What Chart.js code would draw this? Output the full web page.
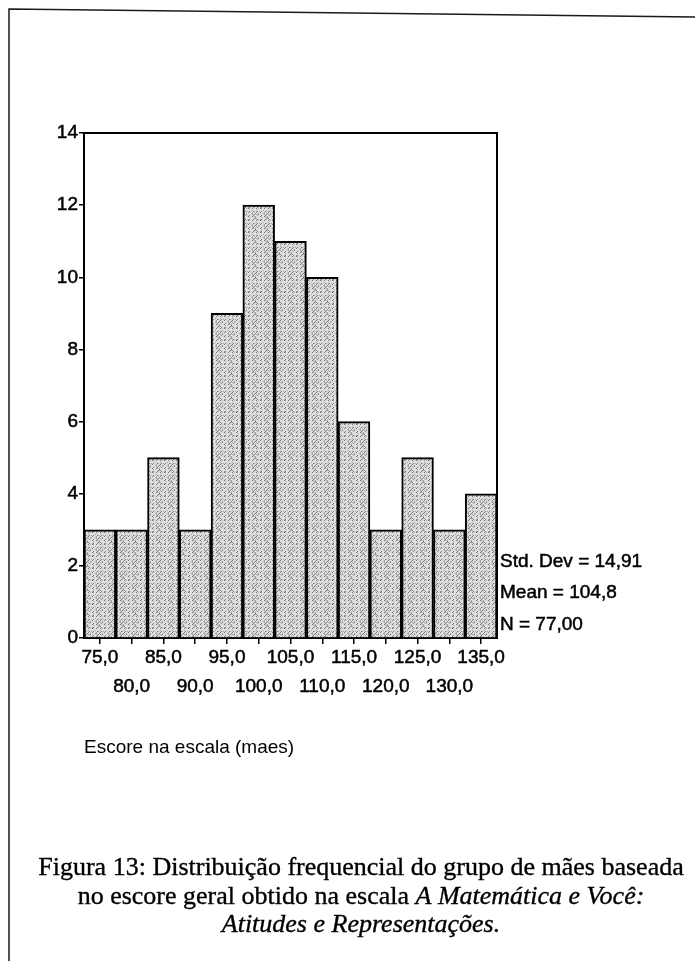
<!DOCTYPE html>
<html>
<head>
<meta charset="utf-8">
<script src="https://cdn.jsdelivr.net/npm/chart.js@4/dist/chart.umd.min.js"></script>
<style>
  html, body { margin: 0; padding: 0; background: #fff; }
  canvas { display: block; }
</style>
</head>
<body>
<canvas id="hist" width="695" height="961" style="width:695px;height:961px"></canvas>
<script>
// Histogram bins (midpoints) and frequencies
const binLabels = ['75,0', '80,0', '85,0', '90,0', '95,0', '100,0', '105,0',
                   '110,0', '115,0', '120,0', '125,0', '130,0', '135,0'];
const counts = [3, 3, 5, 3, 9, 12, 11, 10, 6, 3, 5, 3, 4];

// Frequency axis
const yMin = 0;
const yMax = 14;
const yStep = 2;

// Summary statistics printed beside the plot
const statLines = ['Std. Dev = 14,91', 'Mean = 104,8', 'N = 77,00'];

const axisTitle = 'Escore na escala (maes)';

// Figure caption; each line is a list of [text, italic] runs
const captionLines = [
  [['Figura 13: Distribuição frequencial do grupo de mães baseada', false]],
  [['no escore geral obtido na escala ', false], ['A Matemática e Você:', true]],
  [['Atitudes e Representações.', true]]
];

const SANS = "'Liberation Sans', Arial, sans-serif";
const SERIF = "'Liberation Serif', 'Times New Roman', serif";

const canvas = document.getElementById('hist');
const ctx = canvas.getContext('2d');

// Stippled grey fill with a faint "/" grain for the bars
function stipplePattern() {
  const n = 12;
  const tile = document.createElement('canvas');
  tile.width = n; tile.height = n;
  const g = tile.getContext('2d');
  g.fillStyle = '#dedede';
  g.fillRect(0, 0, n, n);
  for (let y = 0; y < n; y++) {
    for (let x = 0; x < n; x++) {
      const h = (x * 37 + y * 91 + x * y * 13) % 17;
      if ((x + y) % 4 === 0 && h < 10) {
        g.fillStyle = '#7c7c7c';
        g.fillRect(x, y, 1, 1);
      } else if (h === 3 || h === 9 || h === 14) {
        g.fillStyle = '#a4a4a4';
        g.fillRect(x, y, 1, 1);
      }
    }
  }
  return ctx.createPattern(tile, 'repeat');
}

// Page background and the scanned page's frame lines
const pagePlugin = {
  id: 'page',
  beforeDraw(chart) {
    const c = chart.ctx;
    c.save();
    c.fillStyle = '#fff';
    c.fillRect(0, 0, chart.width, chart.height);
    c.strokeStyle = '#1a1a1a';
    c.lineWidth = 1.5;
    c.beginPath();
    c.moveTo(9, chart.height);
    c.lineTo(9, 9);
    c.lineTo(chart.width, 17);
    c.stroke();
    c.restore();
  }
};

// Close the plot box on the top and right sides
const boxPlugin = {
  id: 'plotBox',
  afterDatasetsDraw(chart) {
    const { left, top, right, bottom } = chart.chartArea;
    const c = chart.ctx;
    c.save();
    c.strokeStyle = '#000';
    c.lineWidth = 2;
    c.beginPath();
    c.moveTo(left - 1, top);
    c.lineTo(right, top);
    c.lineTo(right, bottom + 1);
    c.stroke();
    c.restore();
  }
};

// Fill text with a thin outline so it reads as heavy as printed type
function inkText(c, text, x, y) {
  c.fillText(text, x, y);
  c.strokeText(text, x, y);
}

// Statistics block and the caption below the chart
const textPlugin = {
  id: 'notes',
  afterDraw(chart) {
    const c = chart.ctx;
    const { right, bottom } = chart.chartArea;
    c.save();
    c.fillStyle = '#000';
    c.strokeStyle = '#000';
    c.lineWidth = 0.5;
    c.textBaseline = 'middle';
    c.textAlign = 'left';
    c.font = '19px ' + SANS;
    const offsets = [76, 45, 13];
    statLines.forEach((t, i) => inkText(c, t, right + 3, bottom - offsets[i]));

    const cx = 361;
    const ys = [868, 897, 925];
    c.lineWidth = 0.35;
    captionLines.forEach((runs, i) => {
      const fonts = runs.map(r => (r[1] ? 'italic ' : '') + '26px ' + SERIF);
      let total = 0;
      const widths = runs.map((r, k) => { c.font = fonts[k]; const w = c.measureText(r[0]).width; total += w; return w; });
      let x = cx - total / 2;
      runs.forEach((r, k) => { c.font = fonts[k]; inkText(c, r[0], x, ys[i]); x += widths[k]; });
    });
    c.restore();
  }
};

new Chart(ctx, {
  type: 'bar',
  data: {
    labels: binLabels,
    datasets: [{
      data: counts,
      backgroundColor: stipplePattern(),
      borderColor: '#000',
      borderWidth: 2,
      categoryPercentage: 1,
      barPercentage: 1
    }]
  },
  options: {
    responsive: false,
    animation: false,
    events: [],
    layout: { padding: { left: 0, top: 133, right: 198, bottom: 181 } },
    plugins: {
      legend: { display: false },
      tooltip: { enabled: false }
    },
    scales: {
      x: {
        offset: true,
        grid: { display: true, drawOnChartArea: false, offset: false, tickLength: 6, color: '#000', lineWidth: 1.5 },
        border: { display: true, color: '#000', width: 2 },
        ticks: {
          color: '#000',
          textStrokeColor: '#000',
          textStrokeWidth: 0.5,
          font: { family: SANS, size: 19, lineHeight: 1.5 },
          padding: 0,
          maxRotation: 0,
          autoSkip: false,
          // alternate labels drop to a second row
          callback(value, index) {
            const label = this.getLabelForValue(value);
            return index % 2 === 1 ? ['', label] : label;
          }
        },
        title: {
          display: true,
          text: axisTitle,
          align: 'start',
          color: '#000',
          font: { family: SANS, size: 19, lineHeight: 1.2 },
          padding: { top: 0, bottom: 20.6 }
        },
        afterFit(scale) { scale.height = 142; }
      },
      y: {
        min: yMin,
        max: yMax,
        grid: { display: true, drawOnChartArea: false, tickLength: 5, color: '#000', lineWidth: 1.5 },
        border: { display: true, color: '#000', width: 2 },
        ticks: {
          stepSize: yStep,
          color: '#000',
          textStrokeColor: '#000',
          textStrokeWidth: 0.5,
          font: { family: SANS, size: 19 },
          padding: 1
        },
        afterFit(scale) { scale.width = 84; }
      }
    }
  },
  plugins: [pagePlugin, boxPlugin, textPlugin]
});
</script>
</body>
</html>
